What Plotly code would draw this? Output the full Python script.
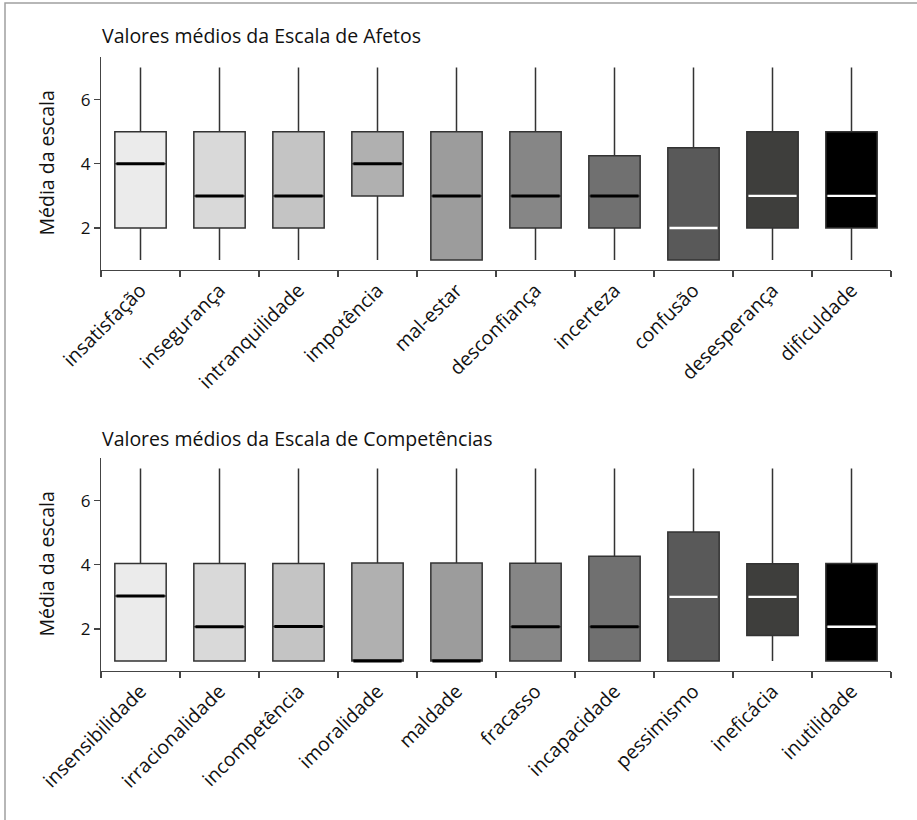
import plotly.graph_objects as go

# ---------------- data ----------------
afetos_cats = ["insatisfação", "insegurança", "intranquilidade", "impotência", "mal-estar",
               "desconfiança", "incerteza", "confusão", "desesperança", "dificuldade"]
afetos_low = [1, 1, 1, 1, 1, 1, 1, 1, 1, 1]
afetos_q1 = [2, 2, 2, 3, 1, 2, 2, 1, 2, 2]
afetos_med = [4, 3, 3, 4, 3, 3, 3, 2, 3, 3]
afetos_q3 = [5, 5, 5, 5, 5, 5, 4.25, 4.5, 5, 5]
afetos_high = [7, 7, 7, 7, 7, 7, 7, 7, 7, 7]

comp_cats = ["insensibilidade", "irracionalidade", "incompetência", "imoralidade", "maldade",
             "fracasso", "incapacidade", "pessimismo", "ineficácia", "inutilidade"]
comp_low = [1, 1, 1, 1, 1, 1, 1, 1, 1, 1]
comp_q1 = [1, 1, 1, 1, 1, 1, 1, 1, 1.8, 1]
comp_med = [3.03, 2.07, 2.08, 1, 1, 2.07, 2.07, 3, 3, 2.07]
comp_q3 = [4.04, 4.04, 4.04, 4.06, 4.06, 4.05, 4.27, 5.02, 4.03, 4.04]
comp_high = [7, 7, 7, 7, 7, 7, 7, 7, 7, 7]

fills = ["#ebebeb", "#d9d9d9", "#c4c4c4", "#b0b0b0", "#9c9c9c",
         "#868686", "#707070", "#595959", "#3e3e3c", "#000000"]
median_colors = ["#000000"] * 7 + ["#ffffff"] * 3

titles = ["Valores médios da Escala de Afetos", "Valores médios da Escala de Competências"]
ytitle = "Média da escala"
yticks = [2, 4, 6]

FONT = "Open Sans"
TXT = "#111111"
BOX_W = 0.65

fig = go.Figure()

panels = [
    (afetos_cats, afetos_low, afetos_q1, afetos_med, afetos_q3, afetos_high, "x", "y", "x3"),
    (comp_cats, comp_low, comp_q1, comp_med, comp_q3, comp_high, "x2", "y2", "x4"),
]

for cats, lo, q1, med, q3, hi, xa, ya, xo in panels:
    for i, c in enumerate(cats):
        fig.add_trace(go.Box(
            x=[c], q1=[q1[i]], median=[med[i]], q3=[q3[i]],
            lowerfence=[lo[i]], upperfence=[hi[i]],
            fillcolor=fills[i], line=dict(color="#333333", width=1.5),
            width=BOX_W, whiskerwidth=0, boxpoints=False, showlegend=False, hoverinfo="skip",
            xaxis=xa, yaxis=ya,
        ))
    for i, c in enumerate(cats):
        fig.add_trace(go.Scatter(
            x=[i - BOX_W / 2 + 0.02, i + BOX_W / 2 - 0.02], y=[med[i], med[i]],
            mode="lines",
            line=dict(color=median_colors[i], width=3 if median_colors[i] == "#000000" else 2.4),
            showlegend=False, hoverinfo="skip", xaxis=xo, yaxis=ya,
        ))

# geometry (pixels)
W, H = 917, 820
L, R, T, B = 101, 26, 57, 149
pw = W - L - R
ph = H - T - B
def fy(py):
    return (H - B - py) / ph
def fx(px):
    return (px - L) / pw

xcommon = dict(type="category", tickson="boundaries", ticks="outside", ticklen=6,
               tickwidth=1.2, tickcolor="#444", showline=True, linecolor="#444", linewidth=1.2,
               tickangle=-45, showgrid=False, range=[-0.5, 9.5],
               tickfont=dict(family=FONT, size=19.5, color=TXT))
ycommon = dict(range=[0.69, 7.33], tickvals=yticks, ticks="outside", ticklen=6,
               tickwidth=1.2, tickcolor="#444", showline=True, linecolor="#444", linewidth=1.2,
               showgrid=False, zeroline=False,
               tickfont=dict(family=FONT, size=17, color=TXT))

fig.update_layout(
    width=W, height=H,
    margin=dict(l=L, r=R, t=T, b=B),
    paper_bgcolor="white", plot_bgcolor="white",
    font=dict(family=FONT, size=17, color=TXT),
    showlegend=False,
    xaxis=dict(**xcommon, domain=[0, 1], anchor="y", categoryorder="array", categoryarray=afetos_cats),
    yaxis=dict(**ycommon, domain=[fy(270), fy(57)], anchor="x"),
    xaxis2=dict(**xcommon, domain=[0, 1], anchor="y2", categoryorder="array", categoryarray=comp_cats),
    yaxis2=dict(**ycommon, domain=[fy(671), fy(458)], anchor="x2"),
    xaxis3=dict(overlaying="x", range=[-0.5, 9.5], visible=False, anchor="y"),
    xaxis4=dict(overlaying="x2", range=[-0.5, 9.5], visible=False, anchor="y2"),
)

annotations = [
    dict(text=titles[0], xref="paper", yref="paper", x=fx(100), y=fy(36),
         xanchor="left", yanchor="middle", showarrow=False, font=dict(family=FONT, size=19.5, color=TXT)),
    dict(text=titles[1], xref="paper", yref="paper", x=fx(100), y=fy(438),
         xanchor="left", yanchor="middle", showarrow=False, font=dict(family=FONT, size=19.5, color=TXT)),
    dict(text=ytitle, xref="paper", yref="paper", x=fx(46), y=fy(163.5), textangle=-90,
         xanchor="center", yanchor="middle", showarrow=False, font=dict(family=FONT, size=19.5, color=TXT)),
    dict(text=ytitle, xref="paper", yref="paper", x=fx(46), y=fy(564.5), textangle=-90,
         xanchor="center", yanchor="middle", showarrow=False, font=dict(family=FONT, size=19.5, color=TXT)),
]
fig.update_layout(annotations=annotations)

# figure frame (cropped: visible on left and top)
fig.add_shape(type="rect", xref="paper", yref="paper",
              x0=fx(5), x1=fx(930), y0=fy(830), y1=fy(3),
              line=dict(color="#a0a0a0", width=1.5), fillcolor="rgba(0,0,0,0)", layer="below")

fig.write_html("out.html", config={"displayModeBar": False, "staticPlot": True},
               post_script="document.body.style.margin='0';document.body.style.overflow='hidden';")
